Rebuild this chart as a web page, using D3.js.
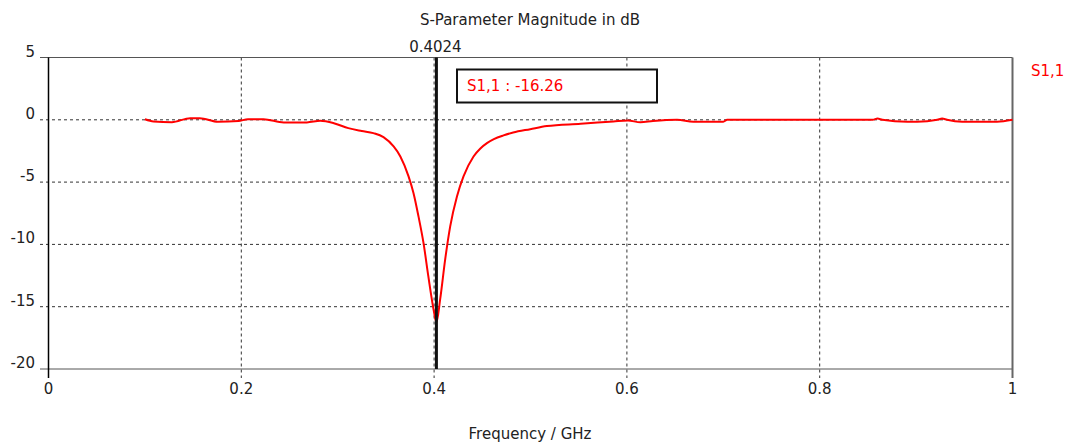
<!DOCTYPE html>
<html>
<head>
	<title>S-Parameter Magnitude in dB</title>
	<script src="https://d3js.org/d3.v7.min.js"></script>
	<style>
		body { margin: 0; background: #fff; }
		text { font-family: "DejaVu Sans", sans-serif; font-size: 15px; fill: #222; }
	</style>
</head>
<body>
<section id="container"></section>
<script>
//Data
var freq = [0.100, 0.109, 0.128, 0.147, 0.157, 0.176, 0.197, 0.207, 0.223, 0.244, 0.268, 0.282, 0.296,
	0.311, 0.325, 0.337, 0.3475, 0.358, 0.365, 0.3735, 0.3786, 0.3838, 0.389, 0.394, 0.3994, 0.4024,
	0.4063, 0.4115, 0.4167, 0.4237, 0.4305, 0.4409, 0.448, 0.4548, 0.462, 0.472, 0.482, 0.4997, 0.517,
	0.552, 0.586, 0.601, 0.614, 0.627, 0.652, 0.669, 0.700, 0.704, 0.855, 0.860, 0.865, 0.891, 0.901,
	0.922, 0.927, 0.932, 0.948, 0.984, 1.000];
var s11 = [0.05, -0.13, -0.19, 0.13, 0.13, -0.16, -0.10, 0.05, 0.05, -0.21, -0.21, -0.08, -0.27,
	-0.67, -0.9, -1.07, -1.39, -2.14, -2.94, -4.54, -5.87, -7.75, -9.88, -12.55, -15.2, -16.26,
	-14.4, -11.2, -8.55, -6.15, -4.54, -2.94, -2.3, -1.87, -1.55, -1.25, -1.02, -0.75, -0.5,
	-0.32, -0.13, -0.05, -0.2, -0.1, 0, -0.15, -0.15, 0, 0, 0.1, 0, -0.15, -0.15,
	0, 0.1, 0, -0.15, -0.15, 0];
var xTicks = [0, 0.2, 0.4, 0.6, 0.8, 1];
var yTicks = [5, 0, -5, -10, -15, -20];
var markerFreq = 0.4024;
var markerValue = -16.26;

var svg = d3.select("#container")
	.append("svg")
	.attr("width", 1072)
	.attr("height", 443);

var x = d3.scaleLinear().domain([0, 1]).range([48.5, 1012.5]);
var y = d3.scaleLinear().domain([-20, 5]).range([369, 57.5]);

//Title
svg.append("text")
	.attr("x", 530).attr("y", 25)
	.attr("text-anchor", "middle")
	.text("S-Parameter Magnitude in dB");

//Horizontal grid (dashed) with left stubs
svg.append("g").selectAll("line")
	.data(yTicks.filter(function(d) { return d > -20 && d < 5; }))
	.enter().append("line")
	.attr("x1", 40).attr("x2", x(1))
	.attr("y1", function(d) { return y(d); })
	.attr("y2", function(d) { return y(d); })
	.attr("stroke", "#333")
	.attr("stroke-dasharray", "3,3");

//Vertical grid (dashed) with bottom stubs
svg.append("g").selectAll("line")
	.data(xTicks.filter(function(d) { return d > 0 && d < 1; }))
	.enter().append("line")
	.attr("x1", function(d) { return x(d); })
	.attr("x2", function(d) { return x(d); })
	.attr("y1", y(5)).attr("y2", 378)
	.attr("stroke", "#333")
	.attr("stroke-dasharray", "3,3");

//Frame
svg.append("line").attr("x1", 40).attr("x2", x(1)).attr("y1", y(5)).attr("y2", y(5)).attr("stroke", "#555");
svg.append("line").attr("x1", 40).attr("x2", x(1)).attr("y1", y(-20)).attr("y2", y(-20)).attr("stroke", "#555");
svg.append("line").attr("x1", x(1)).attr("x2", x(1)).attr("y1", y(5)).attr("y2", 378).attr("stroke", "#666").attr("stroke-width", 2);
svg.append("line").attr("x1", x(0)).attr("x2", x(0)).attr("y1", y(5)).attr("y2", 378).attr("stroke", "#000").attr("stroke-width", 1.5);

//Y tick labels
svg.append("g").selectAll("text")
	.data(yTicks)
	.enter().append("text")
	.attr("x", 35)
	.attr("y", function(d) { return y(d) - 1; })
	.attr("text-anchor", "end")
	.text(function(d) { return d; });

//X tick labels
svg.append("g").selectAll("text")
	.data(xTicks)
	.enter().append("text")
	.attr("x", function(d) { return x(d); })
	.attr("y", 394)
	.attr("text-anchor", "middle")
	.text(function(d) { return d; });

//X axis title
svg.append("text")
	.attr("x", 530).attr("y", 439)
	.attr("text-anchor", "middle")
	.text("Frequency / GHz");

//Curve
var pts = freq.map(function(f, i) { return [f, s11[i]]; });
var line = d3.line()
	.x(function(d) { return x(d[0]); })
	.y(function(d) { return y(d[1]); })
	.curve(d3.curveMonotoneX);
svg.append("path")
	.datum(pts)
	.attr("d", line)
	.attr("fill", "none")
	.attr("stroke", "#ff0000")
	.attr("stroke-width", 2);

//Marker line
svg.append("line")
	.attr("x1", x(markerFreq)).attr("x2", x(markerFreq))
	.attr("y1", y(5)).attr("y2", y(-20))
	.attr("stroke", "#111").attr("stroke-width", 3);
svg.append("text")
	.attr("x", x(markerFreq) - 1).attr("y", 52)
	.attr("text-anchor", "middle")
	.text(markerFreq);

//Marker readout box
svg.append("rect")
	.attr("x", 457).attr("y", 69.5)
	.attr("width", 200).attr("height", 33)
	.attr("fill", "#fff").attr("stroke", "#111").attr("stroke-width", 2);
svg.append("text")
	.attr("x", 467).attr("y", 91)
	.style("fill", "#ff0000")
	.text("S1,1 : " + markerValue);

//Legend
svg.append("text")
	.attr("x", 1031).attr("y", 76)
	.style("fill", "#ff0000")
	.text("S1,1");
</script>
</body>
</html>
